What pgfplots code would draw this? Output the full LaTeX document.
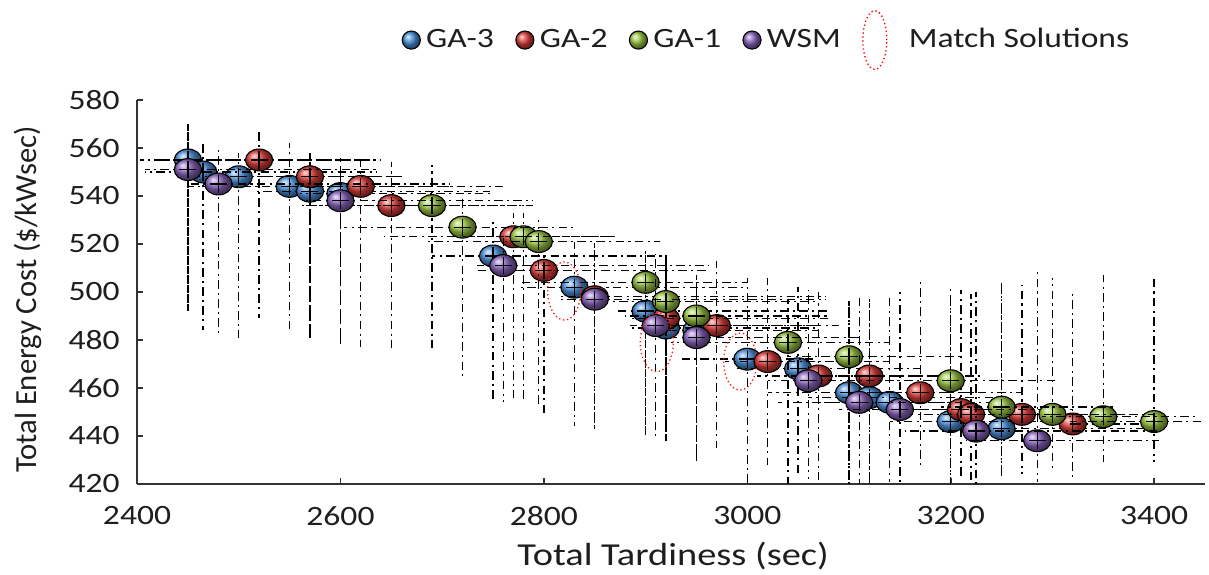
\documentclass[border=0pt]{standalone}
\usepackage{pgfplots}
\usepackage{pgfplotstable}
\pgfplotsset{compat=1.18}
\usepackage{fontspec}
\setmainfont{Carlito}[FakeStretch=1.2]
\newfontfamily\ylabfont{Carlito}
\definecolor{gablue}{RGB}{75,145,220}
\definecolor{gared}{RGB}{220,60,55}
\definecolor{gagreen}{RGB}{155,200,65}
\definecolor{wsmpurple}{RGB}{140,100,190}
\definecolor{txt}{RGB}{30,30,30}

\pgfplotstableread{
x y xp xm yp ym
2450 555 190 38 15 63
2465 550 170 57 12 66
2500 548 160 60 10 67
2550 544 157 100 18 60
2570 542 177 53 16 61
2600 541 150 40 15 63
2750 515 170 60 16 61
2830 502 170 53 19 58
2900 492 180 28 25 52
2920 485 150 35 31 47
2950 484 120 40 23 55
3000 472 68 64 34 52
3050 468 120 60 34 45
3100 458 120 80 39 38
3120 456 130 60 41 36
3140 454 120 70 44 33
3200 446 120 60 50 26
3250 443 150 40 60 20
}\gathree

\pgfplotstableread{
x y xp xm yp ym
2520 555 115 117 12 66
2570 548 93 57 10 67
2620 544 140 60 12 67
2650 536 139 88 18 60
2770 523 100 127 10 67
2800 509 162 66 12 60
2850 498 227 37 23 55
2920 489 160 35 25 50
2970 486 120 50 27 51
3020 471 120 42 35 43
3070 465 120 60 35 44
3120 465 110 60 32 45
3170 458 100 60 46 32
3210 451 112 50 50 29
3220 449 100 60 50 29
3270 449 100 60 54 25
3320 445 90 3 56 23
}\gatwo

\pgfplotstableread{
x y xp xm yp ym
2690 536 99 128 17 60
2720 527 110 117 13 64
2780 523 90 60 10 68
2795 521 119 110 9 69
2900 504 101 123 13 64
2920 496 150 73 20 58
2950 490 130 70 17 60
3040 479 100 115 18 59
3100 473 110 60 24 53
3200 463 105 60 40 43
3250 452 110 60 53 29
3300 449 100 60 57 23
3350 448 90 60 59 19
3400 446 60 83 61 17
}\gaone

\pgfplotstableread{
x y xp xm yp ym
2450 551 185 42 19 59
2480 545 227 29 14 64
2600 538 189 38 18 60
2760 511 202 26 13 57
2850 497 227 37 24 54
2910 486 160 25 30 48
2950 481 160 25 26 52
3060 463 140 40 38 41
3110 454 100 80 45 34
3150 451 110 60 49 30
3225 442 180 70 58 22
3285 438 120 70 72 17
}\wsm

\pgfplotsset{
  ballplot/.style={only marks, mark=ball, ball color=#1, mark size=4.1pt, mark options={xscale=1.25},
    legend image code/.code={\draw plot[mark=ball, ball color=#1, mark size=3.4pt, mark options={xscale=1}] coordinates {(0pt,0pt)};}},
  ebplot/.style={draw=none, mark=none, forget plot,
    error bars/.cd, x dir=both, y dir=both, x explicit, y explicit,
    error bar style={draw=black, solid, line width=0.5pt, dash pattern=on 3.2pt off 1.6pt on 0.8pt off 1.6pt},
    error mark=none},
}

\begin{document}
\begin{tikzpicture}
\begin{axis}[
  scale only axis,
  width=400.5pt, height=144pt,
  xmin=2400, xmax=3450,
  ymin=420, ymax=580,
  clip mode=individual,
  xtick={2400,2600,...,3400},
  ytick={420,440,...,580},
  axis x line*=bottom,
  axis y line*=left,
  axis line style={line width=0.7pt, color=black!80, -},
  tick align=inside,
  major tick length=2.2pt,
  tick style={line width=0.6pt, black!80},
  /pgf/number format/assume math mode=true,
  /pgf/number format/1000 sep={},
  tick label style={font=\fontsize{10.5}{12}\selectfont, text=txt},
  xticklabel style={yshift=-5pt},
  yticklabel style={xshift=-3pt},
  xlabel={Total Tardiness (sec)},
  ylabel={Total Energy Cost (\$/kWsec)},
  xlabel style={font=\fontsize{12}{14}\selectfont, text=txt, at={(axis description cs:0.502,-0.1875)}, anchor=center},
  ylabel style={font=\ylabfont\fontsize{11.5}{14}\selectfont, text=txt, at={(axis description cs:-0.1025,0.48)}, anchor=center},
  legend columns=5,
  legend style={at={(axis description cs:0.591,1.156)}, anchor=center, draw=none, fill=none,
    font=\fontsize{10.5}{12}\selectfont, text=txt,
    /tikz/every even column/.append style={column sep=6pt}},
  legend cell align=left,
]
\coordinate (bl) at (rel axis cs:0,0);
\coordinate (tr) at (rel axis cs:1,1);
\addplot[ballplot=gablue] table[x=x, y=y]{\gathree};
\addlegendentry{GA-3}
\addplot[ebplot] table[x=x, y=y, x error plus=xp, x error minus=xm, y error plus=yp, y error minus=ym]{\gathree};
\addplot[ballplot=gared] table[x=x, y=y]{\gatwo};
\addlegendentry{GA-2}
\addplot[ebplot] table[x=x, y=y, x error plus=xp, x error minus=xm, y error plus=yp, y error minus=ym]{\gatwo};
\addplot[ballplot=gagreen] table[x=x, y=y]{\gaone};
\addlegendentry{GA-1}
\addplot[ebplot] table[x=x, y=y, x error plus=xp, x error minus=xm, y error plus=yp, y error minus=ym]{\gaone};
\addplot[ballplot=wsmpurple] table[x=x, y=y]{\wsm};
\addlegendentry{WSM}
\addplot[ebplot] table[x=x, y=y, x error plus=xp, x error minus=xm, y error plus=yp, y error minus=ym]{\wsm};
\addlegendimage{legend image code/.code={\draw[red, densely dotted, line width=0.5pt] (0pt,0pt) ellipse [x radius=4.5pt, y radius=11pt];}}
\addlegendentry{\hspace{6pt}Match Solutions}
\draw[red!90, densely dotted, line width=0.5pt] (axis cs:2820,500.4) ellipse [x radius=6.2pt, y radius=10.9pt];
\draw[red!90, densely dotted, line width=0.5pt] (axis cs:2911,479) ellipse [x radius=6.2pt, y radius=11pt];
\draw[red!90, densely dotted, line width=0.5pt] (axis cs:2993,471) ellipse [x radius=6.2pt, y radius=10.7pt];
\end{axis}
\pgfresetboundingbox
\path (bl) ++(-51.4pt,-34.1pt) coordinate (A);
\path (tr) ++(1.5pt,37.5pt) coordinate (B);
\path[use as bounding box] (A) rectangle (B);
\end{tikzpicture}
\end{document}
